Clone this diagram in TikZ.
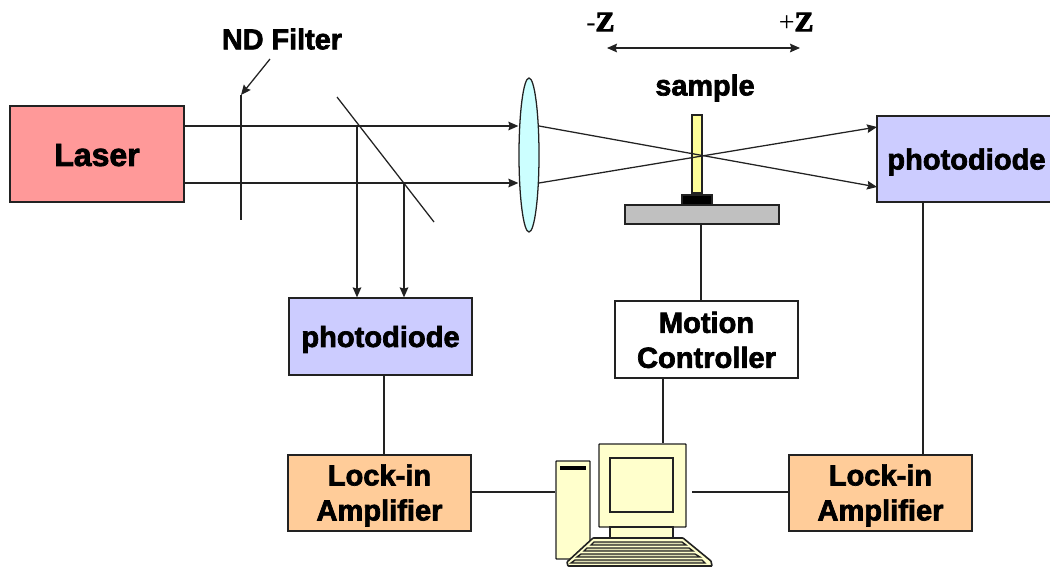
\documentclass[tikz,border=0pt]{standalone}
\usepackage{fontspec}
\setmainfont{Liberation Sans}[BoldFeatures={FakeBold=2.4}]
\newfontfamily\zfont{Liberation Serif}[BoldFeatures={FakeBold=4}]
\usetikzlibrary{shapes.geometric,arrows.meta}
\definecolor{laserc}{HTML}{FF9999}
\definecolor{pdc}{HTML}{CCCCFF}
\definecolor{lockc}{HTML}{FFCC99}
\definecolor{lensc}{HTML}{CCFFFF}
\definecolor{samplec}{HTML}{FFFF99}
\definecolor{pcc}{HTML}{FFFFCC}
\definecolor{stagec}{HTML}{C0C0C0}
\definecolor{inkc}{HTML}{222222}
\newcommand\dn[2]{\raisebox{-#1pt}[\height][\depth]{#2}}
\tikzset{
  every picture/.style={line width=0.95pt,draw=inkc},
  boxn/.style={draw=inkc,rectangle,inner sep=0pt,align=center,font=\bfseries\fontsize{21.8}{26.25}\selectfont,text=black},
  pxsize/.style n args={2}{minimum width=#1*0.75pt,minimum height=#2*0.75pt},
  labeln/.style={inner sep=0pt,font=\bfseries\fontsize{21.6}{24}\selectfont,text=black},
  zn/.style={inner sep=0pt,font=\zfont\bfseries\fontsize{21}{24}\selectfont,text=black},
  tipped/.style={draw=inkc,-{Stealth[length=7.5pt,width=6.5pt,inset=1pt]}},
  wire/.style={draw=inkc},
  pcpart/.style={draw=inkc,fill=pcc,line width=1.1pt,rounded corners=0.5pt},
}
\begin{document}
\begin{tikzpicture}[x=0.75pt,y=-0.75pt]
\useasboundingbox (0,0) rectangle (1050,569);
% boxes
\node[boxn,fill=laserc,pxsize={174}{96}] (laser) at (97,154) {\dn{0.8}{\fontsize{24}{28}\selectfont Laser}};
\node[boxn,fill=pdc,pxsize={174}{86}] (pdr) at (964,159) {\dn{2.2}{\,photodiode}};
\node[boxn,fill=pdc,pxsize={183}{77}] (pdl) at (380.5,336.5) {\dn{2.2}{photodiode}};
\node[boxn,fill=white,pxsize={183}{77}] (motion) at (706.5,339.5) {\dn{0.3}{Motion}\\\dn{0.3}{Controller}};
\node[boxn,fill=lockc,pxsize={183}{76}] (lockl) at (379.5,493) {\dn{1.8}{Lock-in}\\\dn{1.8}{Amplifier}};
\node[boxn,fill=lockc,pxsize={183}{76}] (lockr) at (880.5,493) {\dn{1.8}{Lock-in}\\\dn{1.8}{Amplifier}};
% optics
\node[draw=inkc,fill=lensc,ellipse,inner sep=0pt,minimum width=20*0.75pt,minimum height=154*0.75pt] (lens) at (529,155) {};
\node[draw=inkc,fill=samplec,inner sep=0pt,minimum width=10*0.75pt,minimum height=78*0.75pt] (sample) at (697,154) {};
\node[draw=inkc,fill=black,inner sep=0pt,minimum width=30*0.75pt,minimum height=10*0.75pt] (holder) at (697,200) {};
\node[draw=inkc,fill=stagec,inner sep=0pt,minimum width=154*0.75pt,minimum height=19*0.75pt] (stage) at (702,214.5) {};
% filter and mirror
\coordinate (ndtop) at (241,95);
\coordinate (ndbot) at (241,220);
\coordinate (mtop) at (337,97);
\coordinate (mbot) at (434,222);
\draw[wire] (ndtop) -- (ndbot);
\draw[wire] (mtop) -- (mbot);
% labels
\node[labeln] (ndl) at (282,39) {ND Filter};
\node[labeln] (samplel) at (705,88) {sample};
\node[zn,anchor=east] (zm) at (615,22) {{\mdseries -}Z};
\node[zn,anchor=east] (zp) at (814,22) {{\mdseries +}Z};
\coordinate (ndarrow) at (270,59);
\draw[tipped] (ndarrow) -- (ndtop);
\coordinate (zl) at (607,48);
\coordinate (zr) at (800,48);
\draw[draw=inkc,{Stealth[length=7.5pt,width=6.5pt,inset=1pt]}-{Stealth[length=7.5pt,width=6.5pt,inset=1pt]}] (zl) -- (zr);
% beams
\coordinate (up) at (0,126);
\coordinate (lo) at (0,183);
\draw[tipped] (laser.east |- up) -- (lens.west |- up);
\draw[tipped] (laser.east |- lo) -- (lens.west |- lo);
\coordinate (lensup) at (539,126);
\coordinate (lenslo) at (539,183);
\coordinate (pdup) at (877,127);
\coordinate (pdlo) at (877,187);
\draw[tipped] (lensup) -- (pdlo);
\draw[tipped] (lenslo) -- (pdup);
\coordinate (s1) at (357,126);
\coordinate (s2) at (404,183);
\draw[tipped] (s1) -- (s1 |- pdl.north);
\draw[tipped] (s2) -- (s2 |- pdl.north);
% wires
\coordinate (x1) at (384,0);
\coordinate (x2) at (701,0);
\coordinate (x3) at (663,0);
\coordinate (x4) at (923,0);
\draw[wire] (x1 |- pdl.south) -- (x1 |- lockl.north);
\draw[wire] (x2 |- stage.south) -- (x2 |- motion.north);
\draw[wire] (x4 |- pdr.south) -- (x4 |- lockr.north);
% computer
\node[pcpart,rectangle,inner sep=0pt,minimum width=34*0.75pt,minimum height=98*0.75pt] (tower) at (573,510) {};
\node[draw=black,fill=black,inner sep=0pt,minimum width=24*0.75pt,minimum height=2*0.75pt] (slot) at (573,468) {};
\node[pcpart,rectangle,inner sep=0pt,minimum width=87*0.75pt,minimum height=83*0.75pt] (monitor) at (642.5,485.5) {};
\node[draw=inkc,fill=pcc,inner sep=0pt,line width=1.1pt,minimum width=63*0.75pt,minimum height=54*0.75pt] (screen) at (641.5,485) {};
\node[draw=inkc,fill=pcc,inner sep=0pt,line width=1.1pt,minimum width=63*0.75pt,minimum height=11*0.75pt] (neck) at (641.5,532.5) {};
\filldraw[pcpart,line width=1.2pt] (593,538) -- (683,538) -- (711,561) -- (712,566) -- (568,566) -- (567,562) -- cycle;
\foreach \ya/\xa/\xb/\yb/\xc/\xd in {542/594/682/545/591/686,548/587/689/551/584/693,554/581/695/557/577/700,560/575/702/563/571/705}{
  \filldraw[draw=inkc,fill=pcc!85!inkc,line width=1pt] (\xa,\ya) -- (\xb,\ya) -- (\xd,\yb) -- (\xc,\yb) -- cycle;
}
\coordinate (wl) at (556,492);
\coordinate (mright) at (692,492);
\draw[wire] (lockl.east |- wl) -- (tower.west |- wl);
\draw[wire] (mright) -- (lockr.west |- mright);
\draw[wire] (x3 |- motion.south) -- (x3 |- monitor.north);
\end{tikzpicture}
\end{document}
